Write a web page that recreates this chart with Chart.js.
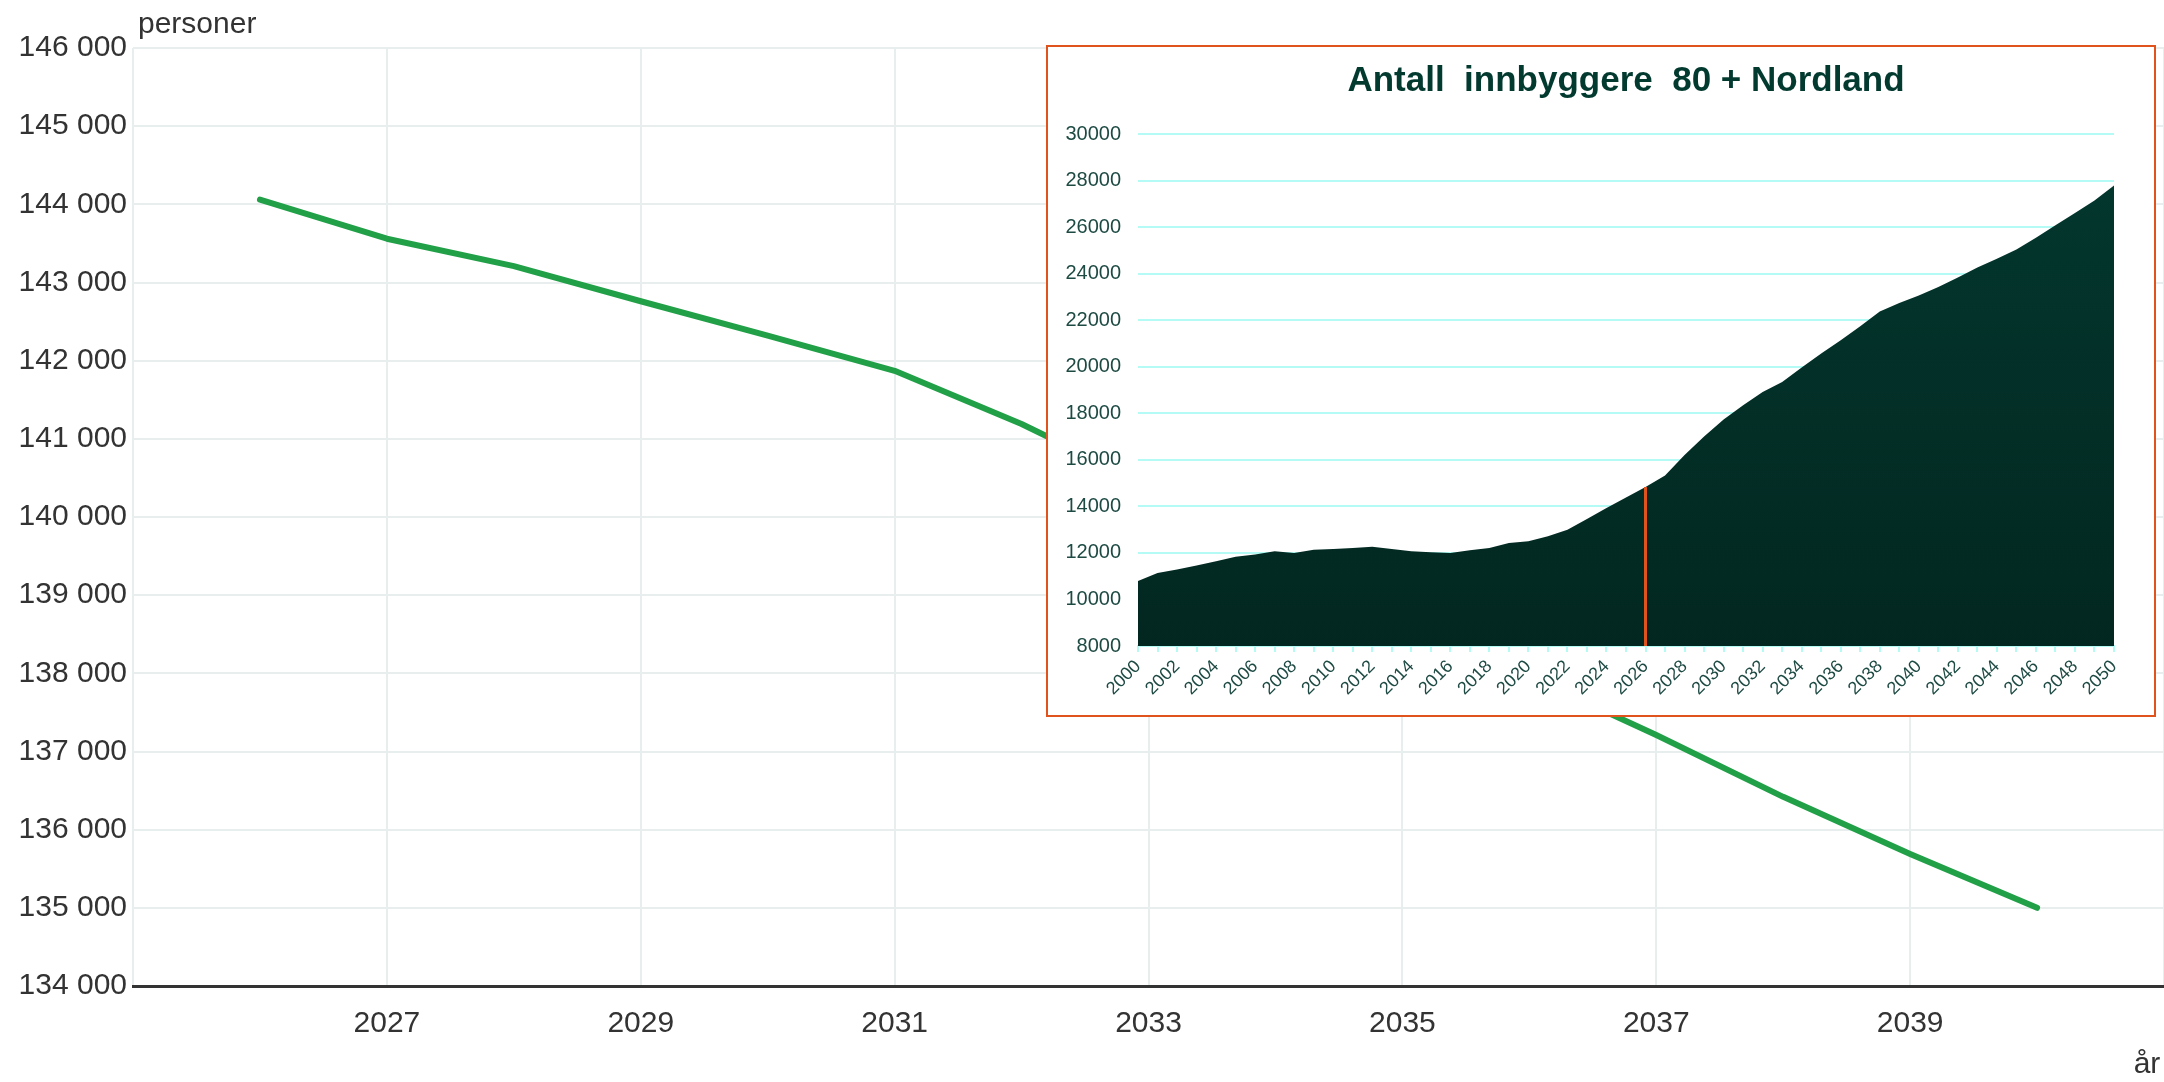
<!DOCTYPE html>
<html lang="no">
<head>
<meta charset="utf-8">
<title>Antall innbyggere</title>
<script src="https://cdn.jsdelivr.net/npm/chart.js@4.4.1/dist/chart.umd.min.js"></script>
<style>
  html, body { margin: 0; padding: 0; background: #fff; }
  body { width: 2164px; height: 1082px; position: relative; overflow: hidden; }
  #main-chart { position: absolute; left: 0; top: 0; }
  #inset-box { position: absolute; left: 1046px; top: 45px; width: 1106px; height: 668px;
               border: 2px solid #e0531c; background: #fff; }
</style>
</head>
<body>
<canvas id="main-chart" width="2164" height="1082"></canvas>
<div id="inset-box"><canvas id="inset-chart" width="1106" height="668"></canvas></div>

<script>
// Hoveddiagram: personer per år
const mainYears = [2026, 2027, 2028, 2029, 2030, 2031, 2032, 2033, 2034, 2035, 2036, 2037, 2038, 2039, 2040];
const mainValues = [144060, 143560, 143210, 142760, 142320, 141870, 141190, 140400, 139600, 138780, 137960, 137210, 136420, 135690, 135000];
const mainXTicks = [2025, 2027, 2029, 2031, 2033, 2035, 2037, 2039, 2041];

// Innfelt diagram: antall innbyggere 80+ i Nordland
const insetYears = Array.from({ length: 51 }, (_, i) => 2000 + i);
const insetValues = [10790, 11140, 11290, 11460, 11640, 11830, 11930, 12070, 12000, 12140,
                     12170, 12210, 12260, 12170, 12070, 12030, 12000, 12110, 12210, 12430,
                     12500, 12720, 13000, 13460, 13930, 14380, 14830, 15330, 16210, 17000,
                     17730, 18350, 18910, 19340, 19970, 20570, 21140, 21740, 22370, 22740,
                     23060, 23430, 23830, 24260, 24640, 25040, 25540, 26080, 26610, 27140,
                     27790];
const markerYear = 2026;

Chart.defaults.font.family = 'Arial, "Liberation Sans", sans-serif';

function spaced(v) {
    return String(v).replace(/\B(?=(\d{3})+(?!\d))/g, ' ');
}

// Aksetitler "personer" og "år"
const axisTitles = {
    id: 'axisTitles',
    afterDraw(chart) {
        const ctx = chart.ctx;
        const area = chart.chartArea;
        ctx.save();
        ctx.fillStyle = '#333';
        ctx.font = '30px Arial, "Liberation Sans", sans-serif';
        ctx.textBaseline = 'alphabetic';
        ctx.textAlign = 'left';
        ctx.fillText('personer', area.left + 5, area.top - 15);
        ctx.textAlign = 'center';
        ctx.fillText('år', 2147, 1073);
        ctx.restore();
    }
};

new Chart(document.getElementById('main-chart'), {
    type: 'line',
    data: {
        datasets: [{
            data: mainYears.map((y, i) => ({ x: y, y: mainValues[i] })),
            borderColor: '#21a048',
            borderWidth: 6,
            borderCapStyle: 'round',
            borderJoinStyle: 'round',
            pointRadius: 0,
            tension: 0,
            fill: false
        }]
    },
    options: {
        responsive: false,
        animation: false,
        layout: { padding: { top: 48, left: 0, right: 0, bottom: 0 } },
        plugins: { legend: { display: false }, tooltip: { enabled: false } },
        scales: {
            x: {
                type: 'linear',
                min: 2025,
                max: 2041,
                afterBuildTicks: (scale) => { scale.ticks = mainXTicks.map(v => ({ value: v })); },
                afterFit: (scale) => {
                    scale.height = 96;
                    scale.paddingLeft = 0;
                    scale.paddingRight = 0;
                },
                ticks: {
                    autoSkip: false,
                    maxRotation: 0,
                    padding: 20,
                    color: '#333',
                    font: { size: 30 },
                    callback: (v) => (v === 2025 || v === 2041) ? '' : String(v)
                },
                grid: { color: '#e8eded', lineWidth: 2, drawTicks: false },
                border: { color: '#333', width: 3 }
            },
            y: {
                min: 134000,
                max: 146000,
                afterFit: (scale) => { scale.width = 133; },
                ticks: {
                    stepSize: 1000,
                    padding: 6,
                    color: '#333',
                    font: { size: 30 },
                    callback: (v) => spaced(v)
                },
                grid: { color: '#e8eded', lineWidth: 2, drawTicks: false },
                border: { display: false }
            }
        }
    },
    plugins: [axisTitles]
});

new Chart(document.getElementById('inset-chart'), {
    type: 'line',
    data: {
        datasets: [
            {
                // oransje markering for inneværende år
                order: 0,
                data: [{ x: markerYear, y: 8000 }, { x: markerYear, y: insetValues[insetYears.indexOf(markerYear)] }],
                borderColor: '#e0531c',
                borderWidth: 3,
                pointRadius: 0,
                fill: false
            },
            {
                order: 1,
                data: insetYears.map((y, i) => ({ x: y, y: insetValues[i] })),
                borderWidth: 0,
                pointRadius: 0,
                tension: 0,
                fill: 'start',
                backgroundColor: (c) => {
                    const area = c.chart.chartArea;
                    if (!area) return '#022d27';
                    const g = c.chart.ctx.createLinearGradient(0, area.top, 0, area.bottom);
                    g.addColorStop(0, '#03382f');
                    g.addColorStop(1, '#022720');
                    return g;
                }
            }
        ]
    },
    options: {
        responsive: false,
        animation: false,
        layout: { padding: { top: 0, left: 0, right: 40, bottom: 0 } },
        plugins: {
            legend: { display: false },
            tooltip: { enabled: false },
            title: {
                display: true,
                fullSize: false,
                text: 'Antall  innbyggere  80 + Nordland',
                color: '#033a30',
                font: { size: 35, weight: 'bold' },
                padding: { top: 13, bottom: 32 }
            }
        },
        scales: {
            x: {
                type: 'linear',
                min: 2000,
                max: 2050,
                afterBuildTicks: (scale) => { scale.ticks = insetYears.map(v => ({ value: v })); },
                afterFit: (scale) => { scale.height = 69; },
                ticks: {
                    autoSkip: false,
                    minRotation: 45,
                    maxRotation: 45,
                    padding: 4,
                    color: '#1d4a43',
                    font: { size: 18 },
                    callback: (v) => v % 2 === 0 ? String(v) : ''
                },
                grid: { drawOnChartArea: false, drawTicks: true, tickLength: 6, color: '#b5fbf5', lineWidth: 2 },
                border: { color: '#b5fbf5', width: 2 }
            },
            y: {
                min: 8000,
                max: 30000,
                afterFit: (scale) => { scale.width = 90; },
                ticks: {
                    stepSize: 2000,
                    padding: 17,
                    color: '#1d4a43',
                    font: { size: 20 },
                    callback: (v) => String(v)
                },
                grid: { color: '#b5fbf5', lineWidth: 2, drawTicks: false },
                border: { display: false }
            }
        }
    }
});
</script>
</body>
</html>
